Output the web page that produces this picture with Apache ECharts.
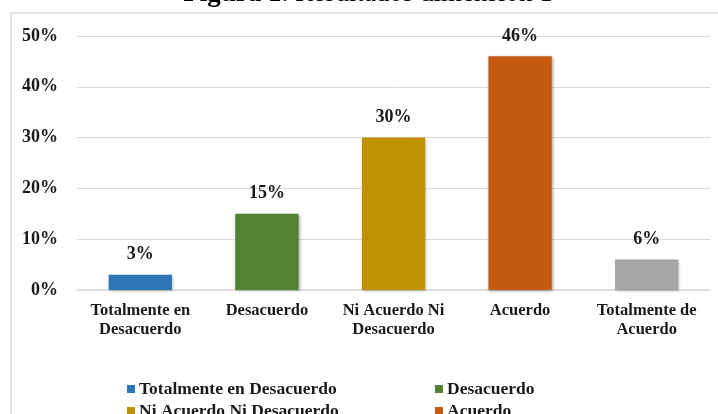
<!DOCTYPE html>
<html>
<head>
<meta charset="utf-8">
<script src="https://cdn.jsdelivr.net/npm/echarts@6/dist/echarts.min.js"></script>
<style>
  html, body { margin: 0; padding: 0; background: #fff; }
  #container { width: 718px; height: 414px; }
</style>
</head>
<body>
<div id="container"></div>
<script>
// datos de la figura
var categories = ['Totalmente en Desacuerdo', 'Desacuerdo', 'Ni Acuerdo Ni Desacuerdo', 'Acuerdo', 'Totalmente de Acuerdo']
var axisLabels = ['Totalmente en\nDesacuerdo', 'Desacuerdo', 'Ni Acuerdo Ni\nDesacuerdo', 'Acuerdo', 'Totalmente de\nAcuerdo']
var values = [3, 15, 30, 46, 6]
var colors = ['#2E75B6', '#548235', '#BF9000', '#C55A11', '#A5A5A5']

var font = 'Liberation Serif'
var dom = document.getElementById('container')
var myChart = echarts.init(dom)

// una serie por categoria, para que la leyenda tenga las cinco entradas
var series = categories.map(function (name, i) {
    return {
        name: name,
        type: 'bar',
        barWidth: '50%',
        barGap: '-100%',
        itemStyle: {
            color: colors[i],
            shadowBlur: 3,
            shadowColor: 'rgba(0,0,0,0.35)',
            shadowOffsetX: 1,
            shadowOffsetY: 1
        },
        label: {
            show: true,
            position: 'top',
            distance: 11,
            formatter: '{c}%',
            fontFamily: font,
            fontWeight: 'bold',
            fontSize: 18,
            color: '#1a1a1a'
        },
        data: categories.map(function (c, j) { return j === i ? values[i] : '-' })
    }
})

// leyenda en dos columnas: una leyenda por entrada (la quinta queda fuera del cuadro)
var legendPos = [[127, 380], [435, 380], [127, 402], [435, 402], [127, 425]]
var legends = categories.map(function (name, i) {
    return {
        left: legendPos[i][0],
        top: legendPos[i][1],
        padding: 0,
        itemWidth: 8,
        itemHeight: 8,
        itemGap: 0,
        icon: 'rect',
        textStyle: { fontFamily: font, fontWeight: 'bold', fontSize: 17.5, color: '#1a1a1a', padding: [0, 0, 0, -1] },
        data: [name]
    }
})

var option = {
    animation: false,
    backgroundColor: '#fff',
    graphic: [
        {
            type: 'rect',
            shape: { x: 11, y: 13, width: 800, height: 500 },
            style: { fill: null, stroke: '#d9d9d9', lineWidth: 1.5 }
        },
        {
            type: 'text',
            x: 368,
            y: -6,
            style: {
                text: '{b|Figura 1.} Resultados dimensión 1',
                align: 'center',
                verticalAlign: 'middle',
                fontFamily: font,
                fontSize: 27,
                fill: '#000',
                rich: { b: { fontFamily: font, fontSize: 27, fontWeight: 'bold', fill: '#000' } }
            }
        }
    ],
    grid: { left: 77, right: 8, top: 36, bottom: 124 },
    legend: legends,
    xAxis: {
        type: 'category',
        data: axisLabels,
        axisTick: { show: false },
        axisLine: { lineStyle: { color: '#d9d9d9', width: 1.5 } },
        axisLabel: {
            interval: 0,
            margin: 11,
            lineHeight: 19,
            fontFamily: font,
            fontWeight: 'bold',
            fontSize: 16.5,
            color: '#1a1a1a'
        }
    },
    yAxis: {
        type: 'value',
        min: 0,
        max: 50,
        interval: 10,
        axisLine: { show: false },
        axisTick: { show: false },
        splitLine: { lineStyle: { color: '#d9d9d9', width: 1 } },
        axisLabel: {
            formatter: '{value}%',
            margin: 19,
            fontFamily: font,
            fontWeight: 'bold',
            fontSize: 18,
            color: '#1a1a1a'
        }
    },
    series: series
}

myChart.setOption(option)
</script>
</body>
</html>
